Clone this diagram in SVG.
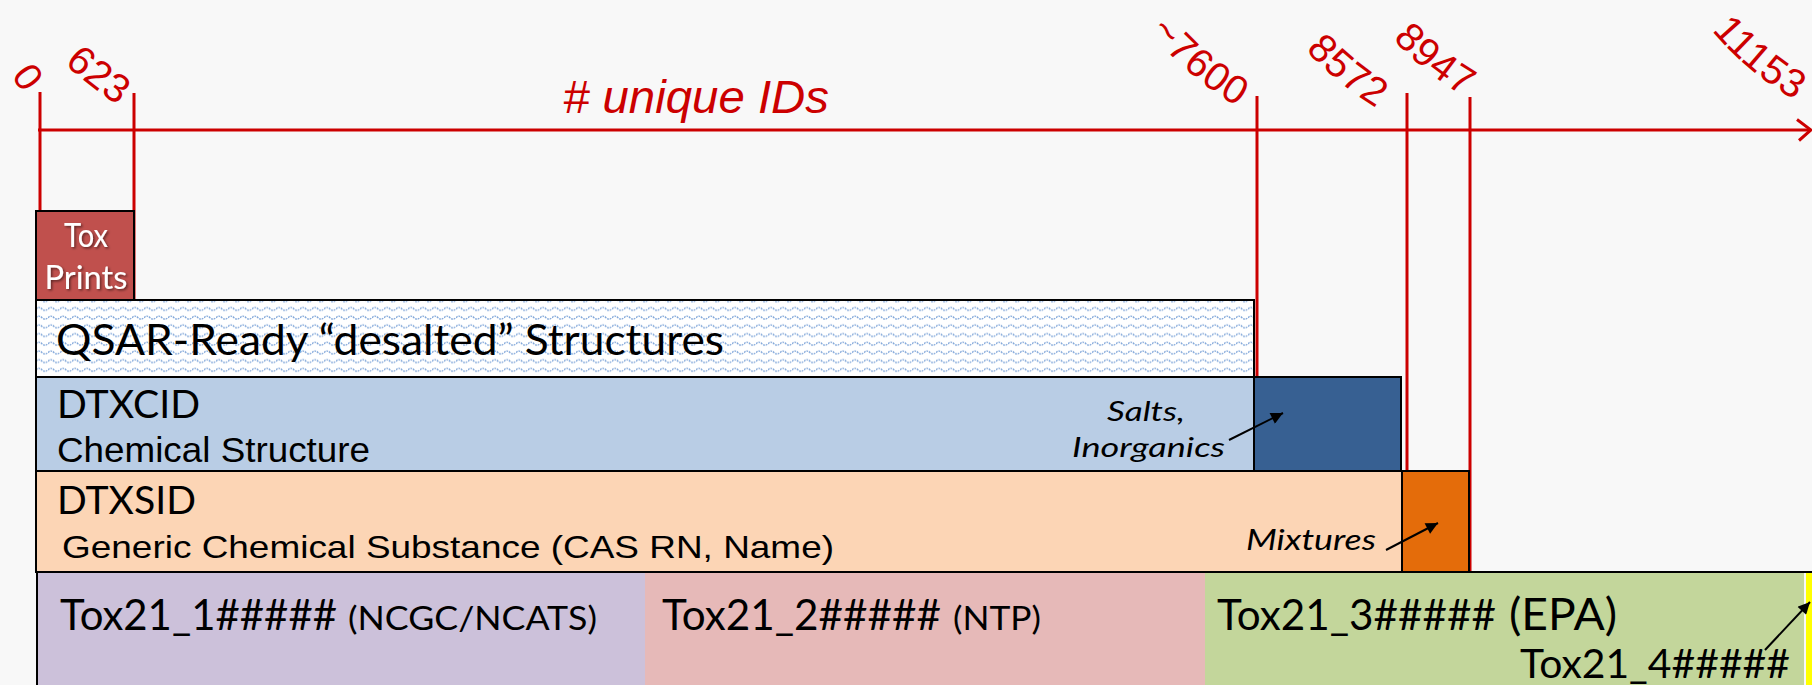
<svg xmlns="http://www.w3.org/2000/svg" width="1812" height="685" viewBox="0 0 1812 685">
<defs>
<style>
.lbl{font-family:"Liberation Sans",Arial,sans-serif;font-size:40px;fill:#CC0000;dominant-baseline:central;}
.tick{stroke:#CC0000;stroke-width:3;fill:none;}
.box{stroke:#000;stroke-width:2;}
.cal{font-family:Lato,"Open Sans",sans-serif;fill:#000;}
.ari{font-family:"Liberation Sans",Arial,sans-serif;fill:#000;}
.it{font-family:Lato,"Open Sans",sans-serif;font-style:italic;fill:#000;font-size:27px;}
.arr{stroke:#000;stroke-width:2;fill:none;marker-end:url(#ah);}
.wt{font-family:Lato,"Open Sans",sans-serif;fill:#fff;font-size:32px;filter:url(#sh);}
</style>
<marker id="ah" viewBox="0 0 10 10" refX="10" refY="5" markerWidth="7" markerHeight="6" orient="auto"><path d="M0,0 L10,5 L0,10 z" fill="#000"/></marker>
<pattern id="wave" width="12" height="8.7" patternUnits="userSpaceOnUse"><rect width="12" height="8.7" fill="#fff"/><path d="M0,4.5 Q3,1.5 6,4.5 T12,4.5" fill="none" stroke="#7BA3D8" stroke-width="1.3" stroke-dasharray="1.8 0.9"/></pattern>
<filter id="sh" x="-20%" y="-20%" width="140%" height="140%"><feDropShadow dx="1.5" dy="1.5" stdDeviation="1" flood-color="#000" flood-opacity="0.5"/></filter>
<path id="p623" d="M73.4,52.8 A400,400 0 0 0 131,97"/>
<path id="p7600" d="M1160,22 A300,300 0 0 0 1253,99"/>
<path id="p8572" d="M1315.5,40 A300,300 0 0 0 1393,101"/>
<path id="p8947" d="M1402.5,29 A300,300 0 0 0 1481,90"/>
<path id="p11153" d="M1722,21 A300,300 0 0 0 1815,95"/>
</defs>
<rect width="1812" height="685" fill="#F8F8F8"/>

<g id="axis-labels">
<text class="lbl" text-anchor="middle" transform="translate(28,77) rotate(55)" style="font-size:39px">0</text>
<text class="lbl"><textPath href="#p623">623</textPath></text>
<text class="lbl"><textPath href="#p7600">~7600</textPath></text>
<text class="lbl"><textPath href="#p8572">8572</textPath></text>
<text class="lbl"><textPath href="#p8947">8947</textPath></text>
<text class="lbl"><textPath href="#p11153">11153</textPath></text>
<text x="563" y="113" font-family="Liberation Sans, Arial, sans-serif" font-style="italic" font-size="47" fill="#CC0000" textLength="266" lengthAdjust="spacingAndGlyphs"># unique IDs</text>
</g>

<g id="connectors">
<line class="tick" x1="38" y1="130" x2="1810" y2="130"/>
<polyline class="tick" points="1797,119.5 1811,130 1799,140.5"/>
<line class="tick" x1="40" y1="92" x2="40" y2="211"/>
<line class="tick" x1="134" y1="93" x2="134" y2="300"/>
<line class="tick" x1="1257" y1="96" x2="1257" y2="575"/>
<line class="tick" x1="1407" y1="93" x2="1407" y2="575"/>
<line class="tick" x1="1470" y1="97" x2="1470" y2="575"/>
</g>

<g id="toxprints">
<rect class="box" x="36" y="211" width="98" height="89" fill="#C0504D"/>
<text class="wt" x="86" y="247" text-anchor="middle" textLength="44" lengthAdjust="spacingAndGlyphs">Tox</text>
<text class="wt" x="86" y="289" text-anchor="middle" textLength="83" lengthAdjust="spacingAndGlyphs">Prints</text>
</g>

<g id="qsar">
<rect class="box" x="36" y="300" width="1218" height="77" fill="url(#wave)"/>
<text class="cal" x="56" y="355" font-size="42" textLength="668" lengthAdjust="spacingAndGlyphs">QSAR-Ready “desalted” Structures</text>
</g>

<g id="dtxcid">
<rect class="box" x="36" y="377" width="1218" height="94" fill="#B9CDE5"/>
<text class="cal" x="57" y="418" font-size="39.5" textLength="143" lengthAdjust="spacingAndGlyphs">DTXCID</text>
<text class="ari" x="57" y="461.5" font-size="35" textLength="313" lengthAdjust="spacingAndGlyphs">Chemical Structure</text>
<text class="it" x="1107" y="420.5" textLength="78" lengthAdjust="spacingAndGlyphs">Salts,</text>
<text class="it" x="1072" y="457" textLength="153" lengthAdjust="spacingAndGlyphs">Inorganics</text>
</g>

<g id="salts">
<rect class="box" x="1254" y="377" width="147" height="94" fill="#376092"/>
</g>

<g id="dtxsid">
<rect class="box" x="36" y="471" width="1366" height="101" fill="#FCD5B5"/>
<text class="cal" x="57" y="514" font-size="39" textLength="139" lengthAdjust="spacingAndGlyphs">DTXSID</text>
<text class="ari" x="62" y="558" font-size="32" textLength="772" lengthAdjust="spacingAndGlyphs">Generic Chemical Substance (CAS RN, Name)</text>
<text class="it" x="1246" y="550" style="font-size:29px" textLength="130" lengthAdjust="spacingAndGlyphs">Mixtures</text>
</g>

<g id="mixtures">
<rect class="box" x="1402" y="471" width="67" height="102" fill="#E46C0A"/>
</g>

<g id="tox21-row">
<rect x="37" y="573" width="608" height="112" fill="#CCC1DA"/>
<rect x="645" y="573" width="560" height="112" fill="#E6B9B8"/>
<rect x="1205" y="573" width="599" height="112" fill="#C3D69B"/>
<line x1="36" y1="572" x2="1812" y2="572" stroke="#000" stroke-width="2"/>
<line x1="37" y1="572" x2="37" y2="685" stroke="#000" stroke-width="2"/>
</g>

<g id="tox21_1">
<text class="cal" x="60" y="630" font-size="42" textLength="277" lengthAdjust="spacingAndGlyphs">Tox21_1#####</text>
<text class="cal" x="348" y="630" font-size="32" textLength="249" lengthAdjust="spacingAndGlyphs">(NCGC/NCATS)</text>
</g>

<g id="tox21_2">
<text class="cal" x="662" y="630" font-size="42" textLength="279" lengthAdjust="spacingAndGlyphs">Tox21_2#####</text>
<text class="cal" x="953" y="630" font-size="32" textLength="88" lengthAdjust="spacingAndGlyphs">(NTP)</text>
</g>

<g id="tox21_3">
<text class="cal" x="1217" y="630" font-size="42" textLength="279" lengthAdjust="spacingAndGlyphs">Tox21_3#####</text>
<text class="cal" x="1509" y="630" font-size="44" textLength="108" lengthAdjust="spacingAndGlyphs">(EPA)</text>
</g>

<g id="tox21_4">
<rect x="1806" y="573" width="6" height="112" fill="#FFFF00"/>
<text class="cal" x="1520" y="678" font-size="40" textLength="270" lengthAdjust="spacingAndGlyphs">Tox21_4#####</text>
</g>

<g id="pointer-arrows">
<line class="arr" x1="1229" y1="440" x2="1283" y2="413"/>
<line class="arr" x1="1386" y1="550" x2="1438" y2="523"/>
<line class="arr" x1="1765" y1="650" x2="1810" y2="602"/>
</g>
</svg>
